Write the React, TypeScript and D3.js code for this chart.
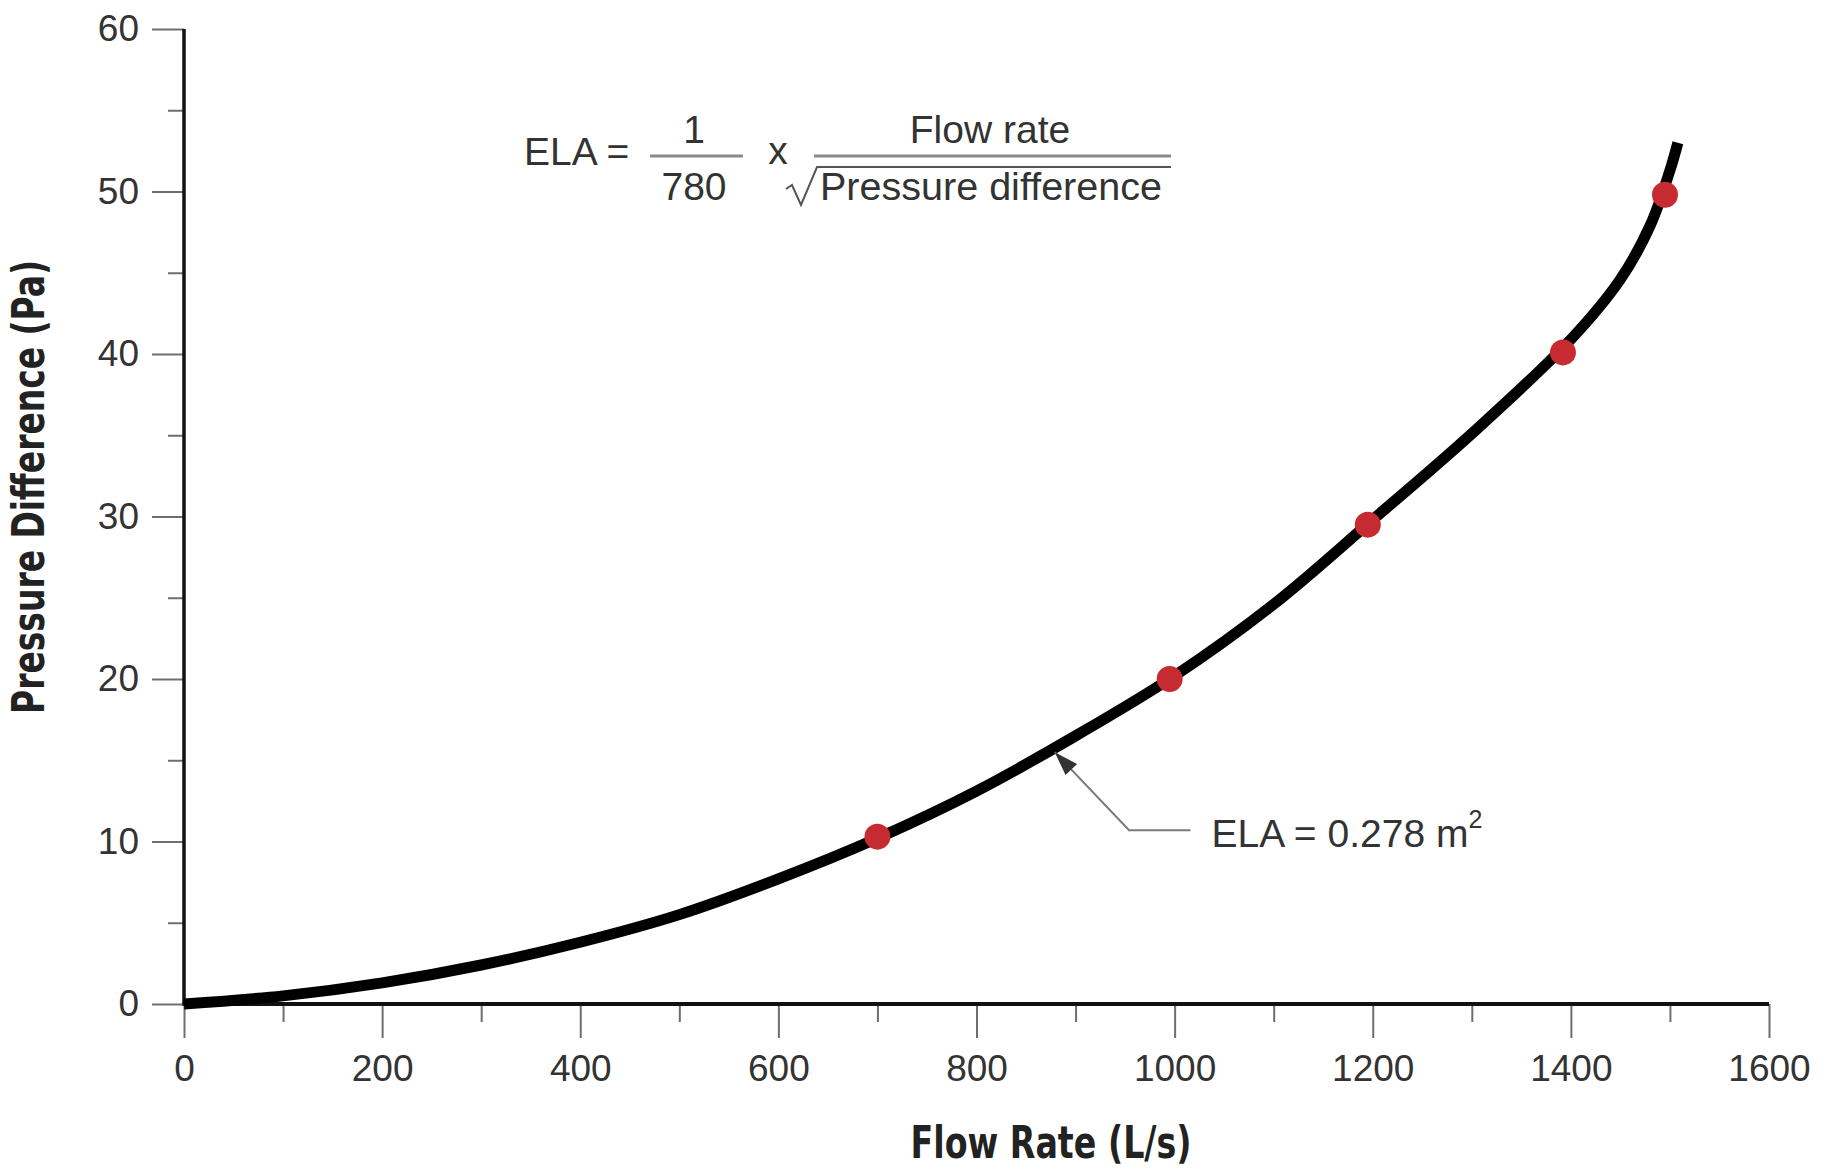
import React, { useRef, useEffect } from 'react';
import * as d3 from 'd3';

// Curve (L/s vs Pa)
const flowRate = [0, 100, 200, 300, 400, 500, 600, 700, 800, 900, 1000, 1100, 1200, 1300, 1400, 1450, 1480, 1500, 1508];
const pressure = [0, 0.5, 1.3, 2.4, 3.8, 5.5, 7.7, 10.2, 13.1, 16.5, 20.2, 24.6, 29.8, 35.1, 40.9, 44.6, 47.9, 51.3, 53.0];

// Measured points (red dots)
const pointFlow = [700, 995, 1195, 1392, 1495];
const pointPressure = [10.3, 20.0, 29.5, 40.1, 49.8];

const xMajorTicks = [0, 200, 400, 600, 800, 1000, 1200, 1400, 1600];
const xMinorTicks = [100, 300, 500, 700, 900, 1100, 1300, 1500];
const yMajorTicks = [0, 10, 20, 30, 40, 50, 60];
const yMinorTicks = [5, 15, 25, 35, 45, 55];

const xTitle = 'Flow Rate (L/s)';
const yTitle = 'Pressure Difference (Pa)';
const elaLabel = 'ELA = 0.278 m';

const W = 1825;
const H = 1175;

export default function App() {
  const svgRef = useRef<SVGSVGElement>(null);

  useEffect(() => {
    if (!svgRef.current) return;
    const svg = d3.select(svgRef.current);
    svg.selectAll('*').remove();

    const x = d3.scaleLinear().domain([0, 1600]).range([184, 1769]);
    const y = d3.scaleLinear().domain([0, 60]).range([1004, 29]);

    const sans = "'Liberation Sans', Arial, Helvetica, sans-serif";
    const narrow = "'Liberation Sans Narrow', 'DejaVu Sans Condensed', 'Liberation Sans', Arial, sans-serif";
    const textColor = '#333';
    const tickColor = '#6e6e6e';
    const fmt = d3.format('d');

    svg.append('rect').attr('width', W).attr('height', H).attr('fill', '#fff');

    // Y axis ticks (minor, then major with labels)
    const yMinor = svg.append('g').attr('transform', `translate(${x(0)},0)`)
      .call(d3.axisLeft(y).tickValues(yMinorTicks).tickSize(16).tickFormat(() => ''));
    const yMajor = svg.append('g').attr('transform', `translate(${x(0)},0)`)
      .call(d3.axisLeft(y).tickValues(yMajorTicks).tickSize(32).tickPadding(13).tickFormat(d => fmt(d as number)));

    // X axis ticks
    const xMinor = svg.append('g').attr('transform', `translate(0,${y(0)})`)
      .call(d3.axisBottom(x).tickValues(xMinorTicks).tickSize(18).tickFormat(() => ''));
    const xMajor = svg.append('g').attr('transform', `translate(0,${y(0)})`)
      .call(d3.axisBottom(x).tickValues(xMajorTicks).tickSize(34).tickPadding(17).tickFormat(d => fmt(d as number)));

    [yMinor, yMajor, xMinor, xMajor].forEach(g => {
      g.select('.domain').remove();
      g.selectAll('.tick line').attr('stroke', tickColor).attr('stroke-width', 2);
      g.selectAll('.tick text')
        .attr('fill', textColor)
        .attr('font-family', sans)
        .attr('font-size', 37);
    });

    // Axis lines
    svg.append('line')
      .attr('x1', x(0)).attr('x2', x(0))
      .attr('y1', y(60)).attr('y2', y(0))
      .attr('stroke', '#111').attr('stroke-width', 3.5);
    svg.append('line')
      .attr('x1', x(0) - 1.5).attr('x2', x(1600))
      .attr('y1', y(0)).attr('y2', y(0))
      .attr('stroke', '#111').attr('stroke-width', 4);

    // Axis titles
    svg.append('text')
      .attr('x', 1051)
      .attr('y', 1158)
      .attr('text-anchor', 'middle')
      .attr('font-family', narrow)
      .attr('font-weight', 'bold')
      .attr('font-size', 44)
      .attr('fill', '#222')
      .attr('textLength', 281)
      .attr('lengthAdjust', 'spacingAndGlyphs')
      .text(xTitle);

    svg.append('text')
      .attr('transform', 'translate(44, 487) rotate(-90)')
      .attr('text-anchor', 'middle')
      .attr('font-family', narrow)
      .attr('font-weight', 'bold')
      .attr('font-size', 44)
      .attr('fill', '#222')
      .attr('textLength', 454)
      .attr('lengthAdjust', 'spacingAndGlyphs')
      .text(yTitle);

    // Curve
    const curveData = flowRate.map((q, i) => [q, pressure[i]] as [number, number]);
    const line = d3.line<[number, number]>()
      .x(d => x(d[0]))
      .y(d => y(d[1]))
      .curve(d3.curveCatmullRom.alpha(0.5));

    svg.append('path')
      .attr('d', line(curveData))
      .attr('fill', 'none')
      .attr('stroke', '#000')
      .attr('stroke-width', 11)
      .attr('stroke-linecap', 'butt');

    // Red points
    svg.append('g').selectAll('circle')
      .data(pointFlow.map((q, i) => [q, pointPressure[i]]))
      .join('circle')
      .attr('cx', d => x(d[0]))
      .attr('cy', d => y(d[1]))
      .attr('r', 13)
      .attr('fill', '#c62b31');

    // Formula
    const fg = svg.append('g').attr('transform', `translate(524, 165)`)
      .attr('font-family', sans)
      .attr('font-size', 39)
      .attr('fill', textColor);
    fg.append('text').attr('x', 0).attr('y', 0).text('ELA =');
    fg.append('text').attr('x', 170).attr('y', -22).attr('text-anchor', 'middle').text('1');
    fg.append('line')
      .attr('x1', 126).attr('x2', 219).attr('y1', -9).attr('y2', -9)
      .attr('stroke', '#8a8a8a').attr('stroke-width', 3);
    fg.append('text').attr('x', 170).attr('y', 35).attr('text-anchor', 'middle').text('780');
    fg.append('text').attr('x', 254).attr('y', -1).attr('text-anchor', 'middle').text('x');
    fg.append('line')
      .attr('x1', 290).attr('x2', 647).attr('y1', -9).attr('y2', -9)
      .attr('stroke', '#8a8a8a').attr('stroke-width', 3);
    fg.append('text').attr('x', 466).attr('y', -22).attr('text-anchor', 'middle').text('Flow rate');
    fg.append('path')
      .attr('d', 'M 262 24 L 268 20 L 277 40 L 293 2 L 647 2')
      .attr('fill', 'none')
      .attr('stroke', '#555')
      .attr('stroke-width', 2);
    fg.append('text').attr('x', 296).attr('y', 35)
      .attr('textLength', 342).attr('lengthAdjust', 'spacingAndGlyphs')
      .text('Pressure difference');

    // ELA callout
    const tip: [number, number] = [x(879), y(15.5)];
    const elbow: [number, number] = [x(954), y(10.7)];
    const end: [number, number] = [x(1016), y(10.7)];
    svg.append('path')
      .attr('d', `M ${end[0]} ${end[1]} L ${elbow[0]} ${elbow[1]} L ${tip[0]} ${tip[1]}`)
      .attr('fill', 'none')
      .attr('stroke', '#7a7a7a')
      .attr('stroke-width', 2);
    const dx = tip[0] - elbow[0];
    const dy = tip[1] - elbow[1];
    const len = Math.hypot(dx, dy);
    const ux = dx / len, uy = dy / len;
    const headLen = 24, headW = 8;
    const bx = tip[0] - ux * headLen, by = tip[1] - uy * headLen;
    svg.append('path')
      .attr('d', `M ${tip[0]} ${tip[1]} L ${bx - uy * headW} ${by + ux * headW} L ${bx + uy * headW} ${by - ux * headW} Z`)
      .attr('fill', '#333');

    const ela = svg.append('text')
      .attr('x', end[0] + 21)
      .attr('y', end[1] + 17)
      .attr('font-family', sans)
      .attr('font-size', 39)
      .attr('fill', textColor);
    ela.append('tspan').text(elaLabel);
    ela.append('tspan').attr('dy', -19).attr('font-size', 25).text('2');
  }, []);

  return (
    <div style={{ position: 'absolute', left: 0, top: 0, width: W, height: H, background: '#fff' }}>
      <svg ref={svgRef} width={W} height={H} style={{ display: 'block' }}></svg>
    </div>
  );
}
